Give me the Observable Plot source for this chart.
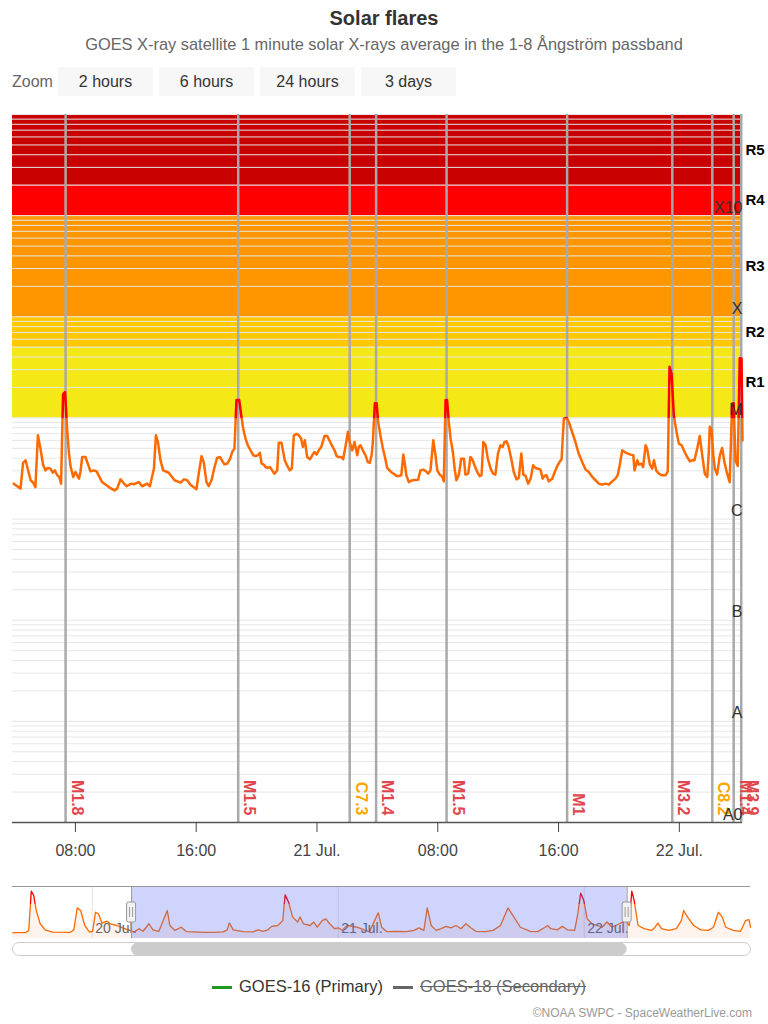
<!DOCTYPE html>
<html><head><meta charset="utf-8">
<script src="https://cdn.jsdelivr.net/npm/d3@7"></script>
<script src="https://cdn.jsdelivr.net/npm/@observablehq/plot@0.6"></script>
<style>
body{margin:0;background:#fff;font-family:"Liberation Sans",Arial,Helvetica,sans-serif;}
#root{position:relative;width:768px;height:1024px;overflow:hidden;background:#fff;}
.abs{position:absolute;white-space:nowrap;}
.title{left:0;width:768px;top:7px;text-align:center;font-size:20px;font-weight:bold;color:#333;}
.subtitle{left:0;width:768px;top:35px;text-align:center;font-size:16.4px;color:#666;}
.zoomlbl{left:12px;top:73px;font-size:16px;color:#666;}
.btn{top:67px;height:29px;width:95px;background:#f7f7f7;color:#333;font-size:16px;line-height:29px;text-align:center;}
.legtext{top:977px;font-size:16.5px;color:#333;}
.legline{top:986px;height:3px;width:20px;}
.credit{right:16px;top:1006px;font-size:12px;color:#999;}
</style>
</head><body>
<div id="root">
  <div class="abs title">Solar flares</div>
  <div class="abs subtitle">GOES X-ray satellite 1 minute solar X-rays average in the 1-8 Ångström passband</div>
  <div class="abs zoomlbl">Zoom</div>
  <div id="buttons"></div>
  <div id="main" class="abs" style="left:0;top:100px;"></div>
  <div id="nav" class="abs" style="left:0;top:880px;"></div>
  <div id="legend"></div>
  <div class="abs credit">©NOAA SWPC - SpaceWeatherLive.com</div>
</div>
<script>
// ---------- DATA ----------
const zoomButtons = ["2 hours", "6 hours", "24 hours", "3 days"];

// main view window (UTC)
const viewStart = "2024-07-20T03:50:00Z";
const viewEnd = "2024-07-22T04:11:00Z";

// GOES-16 1-8 Å flux: minutes after viewStart, flux in units of 1e-6 W/m² (C-class)
const seriesMinutes = [5,32,42,52,72,82,91,101,111,122,131,140,151,160,168,178,186,193,201,209,217,224,230,241,250,264,270,277,290,299,310,323,334,356,383,405,416,429,453,472,482,502,515,535,546,562,570,578,588,599,621,644,668,681,694,707,731,740,751,760,771,780,791,803,813,824,842,853,864,873,882,890,901,909,917,926,935,957,966,
975,983,990,999,1005,1015,1023,1032,1041,1052,1058,1069,1076,1082,1092,1102,1110,1118,1129,1138,1147,1154,1162,1171,1182,1191,1200,1208,1217,1227,1235,1240,1251,1259,1270,1280,1288,1297,1306,1314,1323,1333,1340,1350,1359,1370,1376,1383,1392,1403,1412,1420,1427,1432,1440,1447,1453,1462,1472,1480,1489,1502,1515,1526,1535,1545,1553,1558,1565,1575,1588,1612,1621,1632,1641,1652,1661,1672,1681,1688,1698,1708,1714,1721,1727,1734,1741,1750,1758,1764,1774,1783,1794,1800,1811,1820,1829,1837,1847,1857,1864,1871,1880,1889,1900,1910,
1919,1929,1939,1948,1955,1963,1972,1982,1992,2003,2012,2022,2030,2039,2049,2059,2069,2078,2088,2098,2107,2114,2122,2131,2145,2155,2165,2174,2182,2191,2202,2211,2224,2237,2250,2264,2277,2290,2304,2317,2330,2343,2357,2370,2383,2396,2405,2413,2423,2433,2445,2456,2467,2472,2483,2489,2498,2506,2516,2522,2533,2542,2549,2558,2569,2582,2595,2604,2611,2619,2628,2639,2648,2659,2668,2681,2692,2701,2710,2721,2731,2741,2751,2761,2767,2771,2778,2785,2791,2800,2811,2820,2829,2840,2850,2860,2866,2873,2882,2890,2897,2901];
const seriesFlux = [2.24,2.0,3.6,3.81,2.42,2.29,2.07,6.74,4.97,3.4,3.03,3.2,3.15,2.87,3.03,2.71,2.61,2.24,17.2,18.0,7.83,4.6,3.4,2.61,2.92,2.51,2.92,4.11,4.11,3.53,2.96,3.03,2.96,2.32,2.07,1.92,2.0,2.47,2.11,2.24,2.21,2.32,2.11,2.24,2.11,3.15,6.74,5.78,3.81,3.03,2.87,2.42,2.29,2.47,2.42,2.19,1.97,2.81,4.18,3.66,2.32,2.12,2.42,3.27,4.02,4.11,3.48,3.53,3.9,4.6,4.97,15.0,15.0,10.6,7.83,6.24,5.37,4.27,4.2,
4.27,4.53,3.53,3.45,3.27,3.2,3.27,3.03,2.81,3.03,5.69,5.69,4.6,3.81,3.35,3.03,3.15,6.74,6.95,6.74,6.24,5.17,6.01,4.11,3.9,4.27,4.6,4.34,4.78,5.17,6.01,6.64,6.64,6.01,5.28,4.78,4.2,4.11,4.11,3.9,5.17,7.3,5.78,4.78,5.78,4.27,5.17,5.37,4.78,4.27,3.66,3.6,4.27,5.78,14.0,14.0,9.1,6.74,4.97,4.11,3.2,2.96,2.81,2.67,2.67,2.71,4.34,3.66,2.71,2.32,2.42,2.45,3.03,3.08,3.0,2.81,3.03,6.01,4.27,3.03,2.75,2.61,2.36,15.0,15.0,9.1,6.24,4.6,3.03,2.42,2.75,3.95,3.95,2.75,2.81,4.11,3.81,3.35,2.92,2.65,2.71,5.78,5.37,3.95,3.15,2.81,
2.75,4.44,5.37,5.17,5.78,5.87,5.17,3.95,2.92,2.47,2.55,4.44,2.75,2.67,2.24,2.51,3.4,3.2,3.15,3.08,2.51,2.67,2.71,2.36,2.51,2.92,3.35,3.66,3.9,9.84,10.0,9.1,7.26,5.78,4.44,3.66,3.1,2.92,2.61,2.42,2.24,2.19,2.24,2.19,2.36,2.51,2.71,3.4,4.78,4.6,4.44,4.34,4.27,3.03,3.81,3.45,3.53,3.27,5.37,4.97,3.45,3.15,3.81,3.03,2.81,2.71,2.71,2.96,32.0,27.5,10.6,7.26,5.57,5.37,4.78,4.11,3.72,3.81,3.81,4.97,6.64,4.27,2.81,2.61,4.6,8.2,7.55,4.27,3.15,2.75,4.27,5.05,3.66,2.81,2.32,13.9,14.0,3.81,3.35,39.0,38.7,6.0];

// detected flares
const flareTimes = ["2024-07-20T07:21Z","2024-07-20T18:47Z","2024-07-21T02:10Z","2024-07-21T03:55Z","2024-07-21T08:35Z","2024-07-21T16:34Z","2024-07-21T23:32Z","2024-07-22T02:11Z","2024-07-22T03:36Z","2024-07-22T04:06Z"];
const flareClasses = ["M1.8","M1.5","C7.3","M1.4","M1.5","M1","M3.2","C8.2","M1.4","M3.9"];

// radio blackout bands (W/m²)
const bandNames = ["R1","R2","R3","R4","R5"];
const bandLow = [1e-5, 5e-5, 1e-4, 1e-3, 2e-3];
const bandHigh = [5e-5, 1e-4, 1e-3, 2e-3, 1e-2];
const bandColors = ["#f5e817", "#ffc800", "#ff9600", "#ff0000", "#c80000"];

// flare class labels on the log axis
const classValues = [1e-3, 1e-4, 1e-5, 1e-6, 1e-7, 1e-8, 1e-9];
const classLabels = ["X10", "X", "M", "C", "B", "A", "A0"];

// x axis ticks
const xTickTimes = ["2024-07-20T08:00Z","2024-07-20T16:00Z","2024-07-21T00:00Z","2024-07-21T08:00Z","2024-07-21T16:00Z","2024-07-22T00:00Z"];
const xTickLabels = ["08:00","16:00","21 Jul.","08:00","16:00","22 Jul."];

// navigator (3 days): minutes after navStart, relative navigator level
const navStart = "2024-07-19T16:13:00Z";
const navEnd = "2024-07-22T16:13:00Z";
const navMinutes = [2,75,95,110,124,139,162,191,234,336,359,379,399,423,451,469,486,504,524,553,573,611,654,689,712,741,764,799,822,857,906,921,950,988,1017,1060,1118,1176,1234,1257,1269,1292,1350,1408,1437,1466,1495,1518,1553,1582,1596,1616,1640,1669,1683,1703,1741,1764,1784,1813,1834,1857,1886,1909,1929,1958,2016,2060,2089,2141,2161,2190,2248,2306,2350,2379,2408,2428,2451,2480,2509,2538,2567,2596,2625,2654,2683,2712,2770,2813,2857,2900,2929,2973,3031,3074,3118,3132,3152,3190,3219,3248,3291,3309,3326,3344,3364,3393,3422,3451,3480,3509,3552,3587,3610,3625,3639,3662,3697,3741,3761,3778,3799,3842,3886,3915,3929,3952,3987,4030,4074,4103,4132,4155,4175,4219,4262,4291,4312,4320];
const navLevel = [2.0,2.0,2.8,16.4,14.9,9.7,5.1,3.0,2.2,2.1,3.0,10.6,9.7,4.5,2.2,2.5,9.1,8.5,5.3,6.0,5.1,4.5,3.4,2.8,2.2,3.4,2.5,5.1,3.0,2.5,9.7,4.5,2.8,3.9,2.4,2.3,2.1,2.1,2.3,3.0,5.4,3.0,2.4,2.3,3.0,2.5,3.0,4.2,4.5,6.2,15.1,12.6,7.4,5.7,7.4,5.1,4.5,5.7,3.9,6.2,6.8,5.1,3.4,3.7,2.8,4.5,3.9,3.0,2.3,8.9,3.9,2.4,2.5,2.4,2.8,3.7,2.8,10.6,4.5,2.8,3.4,4.2,3.7,4.5,3.4,5.1,3.7,2.5,2.4,2.8,4.5,10.6,8.0,3.9,2.5,2.4,3.9,4.5,3.4,3.0,4.2,3.0,2.8,8.5,15.7,13.2,6.8,5.1,4.5,3.9,5.7,3.9,5.1,6.2,4.5,16.4,13.2,4.5,3.4,2.8,3.9,5.3,3.4,2.8,3.4,6.2,9.7,7.4,4.5,3.0,2.8,3.9,9.1,7.4,3.9,2.8,2.5,6.2,6.5,3.9];
const navDayTimes = ["2024-07-20T00:00Z","2024-07-21T00:00Z","2024-07-22T00:00Z"];
const navDayLabels = ["20 Jul.","21 Jul.","22 Jul."];

const legendNames = ["GOES-16 (Primary)", "GOES-18 (Secondary)"];
const legendColors = ["#1e9a1e", "#666666"];

// ---------- BUILD ----------
const FONT = '"Liberation Sans", Arial, Helvetica, sans-serif';
const ns = "http://www.w3.org/2000/svg";
function el(tag, attrs) { const e = document.createElementNS(ns, tag); for (const k in attrs) e.setAttribute(k, attrs[k]); return e; }

// buttons
const btnBox = document.getElementById("buttons");
zoomButtons.forEach((b, i) => {
  const d = document.createElement("div");
  d.className = "abs btn"; d.style.left = (58 + i * 101) + "px"; d.textContent = b;
  btnBox.appendChild(d);
});

function zoneGradient(id, threshold, hi, lo) {
  return (index, scales, values, dims) => {
    const defs = el("defs", {});
    const g = el("linearGradient", {id, gradientUnits: "userSpaceOnUse", x1: 0, x2: 0, y1: 0, y2: dims.height});
    const off = scales.y(threshold) / dims.height;
    [[0, hi], [off, hi], [off, lo], [1, lo]].forEach(([o, c]) => g.appendChild(el("stop", {offset: o, "stop-color": c})));
    defs.appendChild(g);
    return defs;
  };
}

const t0 = new Date(viewStart).getTime();
const series = seriesMinutes.map((m, i) => ({t: new Date(t0 + m * 60000), f: seriesFlux[i] * 1e-6}));
const flares = flareTimes.map((s, i) => ({t: new Date(s), cls: flareClasses[i]}));
const bands = bandNames.map((n, i) => ({name: n, lo: bandLow[i], hi: bandHigh[i], color: bandColors[i]}));
const classes = classValues.map((v, i) => ({v, label: classLabels[i]}));
const grid = [];
for (let e = -9; e <= -3; e++) for (let k = 1; k <= 9; k++) grid.push(k * Math.pow(10, e));
grid.push(1e-2);
const xTicks = xTickTimes.map(s => new Date(s));
const tickLab = new Map(xTickTimes.map((s, i) => [+new Date(s), xTickLabels[i]]));

const main = Plot.plot({
  width: 768, height: 780,
  marginLeft: 12, marginRight: 26, marginTop: 14, marginBottom: 58,
  style: {fontFamily: FONT, fontSize: "16px", background: "transparent", overflow: "visible"},
  x: {type: "utc", domain: [new Date(viewStart), new Date(viewEnd)], axis: null},
  y: {type: "log", domain: [1e-9, 1e-2], axis: null},
  color: {type: "identity"},
  marks: [
    zoneGradient("zoneMain", 1e-5, "#ff0000", "#ff6a00"),
    Plot.rect(bands, {y1: "lo", y2: "hi", fill: "color"}),
    Plot.ruleY(grid, {stroke: "#e6e6e6", strokeWidth: 1}),
    Plot.ruleX(flares, {x: "t", stroke: "#a9a9a9", strokeWidth: 2.5}),
    Plot.line(series, {x: "t", y: "f", stroke: "#ff6a00", strokeWidth: 2.5, strokeLinejoin: "round"}),
    Plot.text(flares, {x: "t", text: "cls", rotate: 90, textAnchor: "end", frameAnchor: "bottom", dx: 6, dy: -7,
      fill: d => d.cls.startsWith("M") ? "#e0474c" : "#ffa500", fontWeight: "bold", fontSize: 16}),
    Plot.text(classes, {y: "v", text: "label", frameAnchor: "right", textAnchor: "end", dy: -8, fill: "#333", fontSize: 16}),
    Plot.text(bands, {y: d => Math.sqrt(d.lo * d.hi), text: "name", frameAnchor: "right", textAnchor: "start", dx: 3, fill: "#000", fontWeight: "bold", fontSize: 15}),
    Plot.ruleY([1e-9], {stroke: "#555", strokeWidth: 1.5}),
    Plot.axisX({ticks: xTicks, tickFormat: d => tickLab.get(+d), tickSize: 10, tickPadding: 12, fontSize: 16, color: "#444", label: null})
  ]
});
main.querySelectorAll('g[aria-label="line"]').forEach(g => g.setAttribute("stroke", "url(#zoneMain)"));
document.getElementById("main").appendChild(main);

// navigator
const n0 = new Date(navStart).getTime();
const navData = navMinutes.map((m, i) => ({t: new Date(n0 + m * 60000), v: navLevel[i]}));
const navDays = navDayTimes.map((s, i) => ({t: new Date(s), label: navDayLabels[i]}));
const selStart = new Date(viewStart), selEnd = new Date(viewEnd);
const navTop = 18, navThreshold = 12;

function navWidgets(index, scales, values, dims) {
  const g = el("g", {});
  const xa = scales.x(selStart), xb = scales.x(selEnd);
  const sy = dims.height - 18;
  g.appendChild(el("rect", {x: dims.marginLeft + 0.5, y: sy + 0.5, width: dims.width - dims.marginLeft - dims.marginRight, height: 13, rx: 6.5, fill: "#fff", stroke: "#ccc"}));
  g.appendChild(el("rect", {x: xa, y: sy + 0.5, width: xb - xa, height: 13, rx: 6.5, fill: "#cccccc"}));
  const hy = dims.marginTop + 16;
  for (const x of [xa, xb]) {
    g.appendChild(el("rect", {x: x - 4.5, y: hy, width: 9, height: 20, rx: 2, fill: "#f2f2f2", stroke: "#999"}));
    g.appendChild(el("line", {x1: x - 1.5, x2: x - 1.5, y1: hy + 5, y2: hy + 15, stroke: "#999"}));
    g.appendChild(el("line", {x1: x + 1.5, x2: x + 1.5, y1: hy + 5, y2: hy + 15, stroke: "#999"}));
  }
  return g;
}

const nav = Plot.plot({
  width: 768, height: 80,
  marginLeft: 12, marginRight: 18, marginTop: 6, marginBottom: 22,
  style: {fontFamily: FONT, fontSize: "14px", background: "transparent", overflow: "visible"},
  x: {type: "utc", domain: [new Date(navStart), new Date(navEnd)], axis: null},
  y: {domain: [0, navTop], axis: null},
  marks: [
    zoneGradient("zoneNav", navThreshold, "#ff0000", "#ff6a00"),
    Plot.ruleX(navDays, {x: "t", stroke: "#e6e6e6"}),
    Plot.areaY(navData, {x: "t", y: "v", fill: "#ff6a00", fillOpacity: 0.07}),
    Plot.line(navData, {x: "t", y: "v", stroke: "#ff6a00", strokeWidth: 1.3}),
    Plot.text(navDays, {x: "t", text: "label", frameAnchor: "bottom", textAnchor: "start", dx: 3, dy: -6, fill: "#666", fontSize: 14}),
    Plot.rect([{a: selStart, b: selEnd}], {x1: "a", x2: "b", fill: "#5064f0", fillOpacity: 0.28}),
    Plot.ruleY([navTop], {stroke: "#999"}),
    Plot.ruleX([selStart, selEnd], {stroke: "#999"}),
    navWidgets
  ]
});
nav.querySelectorAll('g[aria-label="line"]').forEach(g => g.setAttribute("stroke", "url(#zoneNav)"));
document.getElementById("nav").appendChild(nav);

// legend
const leg = document.getElementById("legend");
const legX = [212, 393], legTextX = [239, 420];
legendNames.forEach((n, i) => {
  const line = document.createElement("div");
  line.className = "abs legline"; line.style.left = legX[i] + "px"; line.style.background = legendColors[i];
  leg.appendChild(line);
  const t = document.createElement("div");
  t.className = "abs legtext"; t.style.left = legTextX[i] + "px"; t.textContent = n;
  if (i === 1) { t.style.textDecoration = "line-through"; t.style.color = "#666"; }
  leg.appendChild(t);
});
</script>
</body></html>
